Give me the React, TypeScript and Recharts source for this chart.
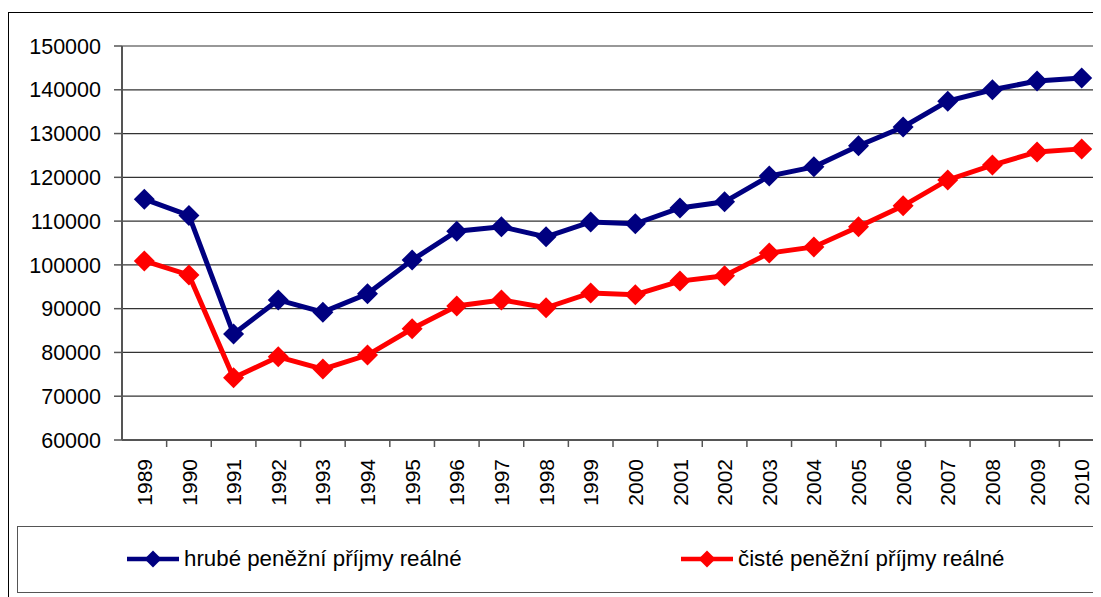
import { LineChart, Line, XAxis, YAxis, CartesianGrid } from "recharts";

const years = [
  "1989", "1990", "1991", "1992", "1993", "1994", "1995", "1996", "1997", "1998", "1999",
  "2000", "2001", "2002", "2003", "2004", "2005", "2006", "2007", "2008", "2009", "2010",
];
const hrube = [
  115000, 111300, 84200, 92000, 89200, 93400, 101100, 107700, 108700, 106400, 109800,
  109400, 113000, 114400, 120300, 122400, 127200, 131500, 137400, 140000, 142000, 142700,
];
const ciste = [
  100900, 97700, 74200, 79000, 76200, 79400, 85400, 90600, 92000, 90200, 93600,
  93200, 96300, 97500, 102700, 104100, 108700, 113500, 119400, 122800, 125800, 126500,
];
const seriesNames = ["hrubé peněžní příjmy reálné", "čisté peněžní příjmy reálné"];
const seriesColors = ["#000080", "#ff0000"];
const yTicks = [60000, 70000, 80000, 90000, 100000, 110000, 120000, 130000, 140000, 150000];

const data = years.map((year, i) => ({ year, hrube: hrube[i], ciste: ciste[i] }));

// layout (container coords = page - 8px body margin)
const W = 1100;
const H = 589;
const M = { top: 38, right: 4, left: 14, bottom: 77 };
const Y_AXIS_W = 100;
const X_AXIS_H = 80;
const plotW = W - M.left - Y_AXIS_W - M.right;
const band = plotW / years.length;
const FONT = "'Liberation Sans', Arial, sans-serif";

function DiamondDot(props: any) {
  const { cx, cy, fill } = props;
  if (cx == null || cy == null) return null;
  const r = 10.5;
  return (
    <path
      d={`M${cx},${cy - r} L${cx + r},${cy} L${cx},${cy + r} L${cx - r},${cy} Z`}
      fill={fill}
    />
  );
}

function YearTick(props: any) {
  const { x, y, payload, index } = props;
  const bx = x - band / 2;
  return (
    <g>
      {index > 0 && <line x1={bx} y1={y - 7} x2={bx} y2={y} stroke="#555" strokeWidth={1.5} />}
      <text
        x={x}
        y={y + 12}
        transform={`rotate(-90, ${x}, ${y + 12})`}
        textAnchor="end"
        dy="0.36em"
        fill="#000"
        fontSize={21}
      >
        {payload.value}
      </text>
    </g>
  );
}

function LegendItem({ color, label, left }: { color: string; label: string; left: number }) {
  return (
    <div style={{ position: "absolute", left, top: 19, display: "flex", alignItems: "center" }}>
      <svg width={54} height={20} style={{ marginRight: 4 }}>
        <line x1={1} y1={10} x2={53} y2={10} stroke={color} strokeWidth={4.5} />
        <path d="M27,1.5 L35.5,10 L27,18.5 L18.5,10 Z" fill={color} />
      </svg>
      <span style={{ fontSize: 22.3, color: "#000", whiteSpace: "nowrap" }}>{label}</span>
    </div>
  );
}

export default function App() {
  return (
    <div
      style={{
        position: "relative",
        width: 1093,
        height: H,
        overflow: "hidden",
        fontFamily: FONT,
        background: "#fff",
      }}
    >
      <div
        style={{
          position: "absolute",
          left: 0,
          top: 4,
          width: W + 20,
          height: 620,
          border: "1.5px solid #000",
          boxSizing: "border-box",
        }}
      />
      <div style={{ position: "absolute", left: 0, top: 0 }}>
        <LineChart width={W} height={H} data={data} margin={M}>
          <CartesianGrid horizontal vertical={false} stroke="#333" strokeWidth={1.2} />
          <XAxis
            dataKey="year"
            interval={0}
            height={X_AXIS_H}
            padding={{ left: band / 2, right: band / 2 }}
            tickSize={7}
            tickMargin={0}
            tickLine={false}
            axisLine={{ stroke: "#555", strokeWidth: 2 }}
            tick={<YearTick />}
          />
          <YAxis
            width={Y_AXIS_W}
            domain={[60000, 150000]}
            ticks={yTicks}
            interval={0}
            tickSize={8}
            tickMargin={13}
            axisLine={{ stroke: "#555", strokeWidth: 2 }}
            tickLine={{ stroke: "#555", strokeWidth: 1.5 }}
            tick={{ fill: "#000", fontSize: 21.5 }}
          />
          <Line
            dataKey="hrube"
            name={seriesNames[0]}
            stroke={seriesColors[0]}
            strokeWidth={5}
            dot={<DiamondDot fill={seriesColors[0]} />}
            activeDot={false}
            isAnimationActive={false}
          />
          <Line
            dataKey="ciste"
            name={seriesNames[1]}
            stroke={seriesColors[1]}
            strokeWidth={5}
            dot={<DiamondDot fill={seriesColors[1]} />}
            activeDot={false}
            isAnimationActive={false}
          />
        </LineChart>
      </div>
      <div
        style={{
          position: "absolute",
          left: 9,
          top: 518,
          width: W,
          height: 67,
          border: "1.5px solid #555",
          boxSizing: "border-box",
        }}
      >
        <LegendItem color={seriesColors[0]} label={seriesNames[0]} left={108} />
        <LegendItem color={seriesColors[1]} label={seriesNames[1]} left={662} />
      </div>
    </div>
  );
}
